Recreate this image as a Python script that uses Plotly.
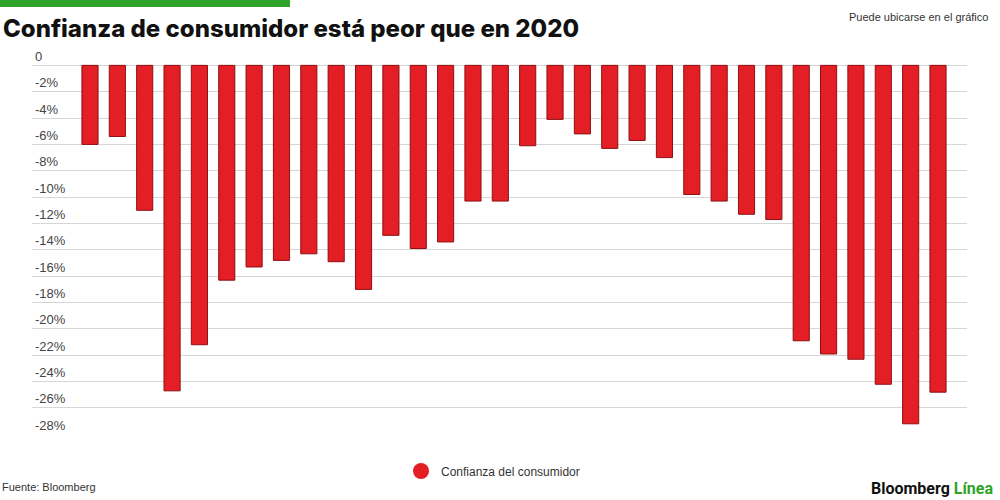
import plotly.graph_objects as go

# monthly readings, oldest first (period labels are not shown on the chart)
periods = list(range(1, 33))
confidence = [
    -6.0, -5.4, -11.0, -24.7, -21.2, -16.3, -15.3, -14.8,
    -14.3, -14.9, -17.0, -12.9, -13.9, -13.4, -10.3, -10.3,
    -6.1, -4.1, -5.2, -6.3, -5.7, -7.0, -9.8, -10.3,
    -11.3, -11.7, -20.9, -21.9, -22.3, -24.2, -27.2, -24.8,
]
tick_values = [0, -2, -4, -6, -8, -10, -12, -14, -16, -18, -20, -22, -24, -26, -28]
tick_labels = ["0"] + [f"{v}%" for v in tick_values[1:]]

series_name = "Confianza del consumidor"
title = "Confianza de consumidor está peor que en 2020"

red = "#e31e24"
green = "#2ea52a"

W, H = 1000, 500
ML, MR, MT, MB = 32, 33, 39, 65


def px_x(px):
    """pixel column -> paper x"""
    return (px - ML) / (W - ML - MR)


def px_y(py):
    """pixel row (from top) -> paper y"""
    return (H - MB - py) / (H - MT - MB)


fig = go.Figure()
fig.add_trace(
    go.Bar(
        x=periods,
        y=confidence,
        marker=dict(color=red, line=dict(color="#8e1014", width=1)),
        width=0.59,
        showlegend=False,
    )
)
# legend entry drawn as a round swatch
fig.add_trace(
    go.Scatter(
        x=[None],
        y=[None],
        mode="markers",
        marker=dict(color=red, size=16),
        name=series_name,
    )
)

fig.update_layout(
    width=W,
    height=H,
    margin=dict(l=ML, r=MR, t=MT, b=MB),
    paper_bgcolor="white",
    plot_bgcolor="white",
    font=dict(family="Liberation Sans, Arial, sans-serif", size=13, color="#333333"),
    showlegend=True,
    legend=dict(
        orientation="h",
        x=px_x(401),
        xanchor="left",
        y=px_y(471),
        yanchor="middle",
        font=dict(size=12, color="#333333"),
    ),
    xaxis=dict(
        range=[-1.12, 33.06],
        showticklabels=False,
        showgrid=False,
        zeroline=False,
        ticks="",
        fixedrange=True,
    ),
    yaxis=dict(
        range=[-28.05, 2.0],
        tickvals=tick_values,
        ticktext=tick_labels,
        ticklabelposition="inside top",
        showgrid=True,
        gridcolor="#d6d6d6",
        gridwidth=1,
        zeroline=False,
        ticks="",
        fixedrange=True,
    ),
)

# green strip across the top left
fig.add_shape(
    type="rect",
    xref="paper",
    yref="paper",
    x0=px_x(0),
    x1=px_x(290),
    y0=px_y(7),
    y1=px_y(0),
    line=dict(width=0),
    fillcolor=green,
)

fig.add_annotation(
    text=title,
    xref="paper",
    yref="paper",
    x=px_x(1),
    y=px_y(28),
    xanchor="left",
    yanchor="middle",
    showarrow=False,
    font=dict(family="Inter, Roboto, sans-serif", size=24, color="#111111", weight=800),
)
fig.add_annotation(
    text="Puede ubicarse en el gráfico",
    xref="paper",
    yref="paper",
    x=px_x(990),
    y=px_y(17),
    xanchor="right",
    yanchor="middle",
    showarrow=False,
    font=dict(size=11, color="#333333"),
)
fig.add_annotation(
    text="Fuente: Bloomberg",
    xref="paper",
    yref="paper",
    x=px_x(0),
    y=px_y(487),
    xanchor="left",
    yanchor="middle",
    showarrow=False,
    font=dict(size=11, color="#333333"),
)
fig.add_annotation(
    text="<b>Bloomberg</b> <b><span style='color:#2ea52a'>Línea</span></b>",
    xref="paper",
    yref="paper",
    x=px_x(995),
    y=px_y(489),
    xanchor="right",
    yanchor="middle",
    showarrow=False,
    font=dict(family="Roboto, sans-serif", size=16, color="#111111"),
)

# page body margin would push the fixed-size figure off by 8px
fig.write_html(
    "out.html",
    config={"displayModeBar": False},
    post_script="document.body.style.margin='0';",
)
